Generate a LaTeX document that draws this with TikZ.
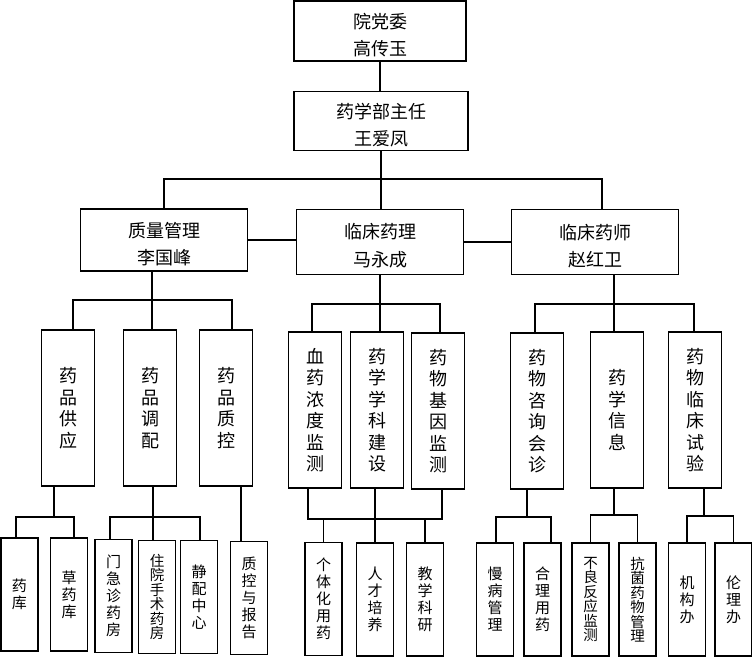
\documentclass[tikz,border=0pt]{standalone}
\usepackage{fontspec}
\setmainfont{Noto Sans CJK SC}

\begin{document}
\begin{tikzpicture}[x=1pt, y=-1pt, line width=1.1pt]
    % Styles
    \tikzstyle{head} = [rectangle, draw, align=center, inner sep=0pt, minimum width=167pt, minimum height=62pt, font=\fontsize{18}{27.5}\selectfont]
    \tikzstyle{dept} = [rectangle, draw, align=center, inner sep=0pt, minimum width=53pt, minimum height=156pt, font=\fontsize{18}{21.5}\selectfont]
    \tikzstyle{unit} = [rectangle, draw, align=center, inner sep=0pt, minimum width=37pt, minimum height=113pt, font=\fontsize{15}{17}\selectfont]
    \tikzstyle{tight} = [font=\fontsize{14.5}{14.5}\selectfont]
    \tikzstyle{line} = [draw]

    \useasboundingbox (0,0) rectangle (752,657);

    % Nodes
    \node [head, minimum width=172pt, minimum height=60pt] (dw) at (380,31) {\rule{0pt}{23pt}院党委\\高传玉};
    \node [head, minimum width=174pt, minimum height=59pt] (bz) at (381,121) {\rule{0pt}{23pt}药学部主任\\王爱凤};
    \node [head] (zl) at (164,240) {\rule{0pt}{23pt}质量管理\\李国峰};
    \node [head, minimum height=65pt] (yl) at (380,242) {\rule{0pt}{23pt}临床药理\\马永成};
    \node [head, minimum height=65pt] (ys) at (595,242) {\rule{0pt}{23pt}临床药师\\赵红卫};

    % second row
    \node [dept] (gy) at (68,408) {药\\品\\供\\应};
    \node [dept] (tp) at (150,408) {药\\品\\调\\配};
    \node [dept] (zk) at (226,408) {药\\品\\质\\控};
    \node [dept] (xn) at (315,410) {血\\药\\浓\\度\\监\\测};
    \node [dept] (xk) at (377,410) {药\\学\\学\\科\\建\\设};
    \node [dept] (jy) at (438,411) {药\\物\\基\\因\\监\\测};
    \node [dept] (zx) at (537,411) {药\\物\\咨\\询\\会\\诊};
    \node [dept] (xx) at (617,410) {药\\学\\信\\息};
    \node [dept] (sy) at (695,410) {药\\物\\临\\床\\试\\验};

    % third row
    \node [unit] (yk) at (19.5,594.5) {药\\库};
    \node [unit] (cyk) at (69,594.5) {草\\药\\库};
    \node [unit] (mjz) at (113.5,596) {门\\急\\诊\\药\\房};
    \node [unit, tight] (zy) at (157,597) {住\\院\\手\\术\\药\\房};
    \node [unit] (jp) at (199,597) {静\\配\\中\\心};
    \node [unit] (zkbg) at (249,598) {质\\控\\与\\报\\告};
    \node [unit] (gt) at (323.5,599) {个\\体\\化\\用\\药};
    \node [unit] (rc) at (375,599.5) {人\\才\\培\\养};
    \node [unit] (jx) at (425,599.5) {教\\学\\科\\研};
    \node [unit] (mb) at (495,599.5) {慢\\病\\管\\理};
    \node [unit] (hl) at (542.5,599.5) {合\\理\\用\\药};
    \node [unit, tight] (bl) at (590.5,599.5) {不\\良\\反\\应\\监\\测};
    \node [unit, tight] (kj) at (637.5,599.5) {抗\\菌\\药\\物\\管\\理};
    \node [unit] (jg) at (687,599.5) {机\\构\\办};
    \node [unit] (ll) at (733.5,599.5) {伦\\理\\办};

    % bus points
    \coordinate (mR) at (602,179);
    \coordinate (zlL) at (73,300);
    \coordinate (zlM) at (152,300);
    \coordinate (zlR) at (232,300);
    \coordinate (ylL) at (312,304);
    \coordinate (ylR) at (440,304);
    \coordinate (ysL) at (535,304);
    \coordinate (ysM) at (614,304);
    \coordinate (ysR) at (694,304);
    \coordinate (gyL) at (16,517);
    \coordinate (gyM) at (54,517);
    \coordinate (gyR) at (74,517);
    \coordinate (tpL) at (110,517);
    \coordinate (tpM) at (153,517);
    \coordinate (tpR) at (200,517);
    \coordinate (zkM) at (241,517);
    \coordinate (gtL) at (308,519);
    \coordinate (gtM) at (375,519);
    \coordinate (gtR) at (442,519);
    \coordinate (mbL) at (496,517);
    \coordinate (mbM) at (527,517);
    \coordinate (mbR) at (551,517);
    \coordinate (blM) at (614,515);
    \coordinate (jgM) at (704,516);

    % Paths
    \path [line] (dw.south) -- (dw.south |- bz.north);
    \path [line] (bz.south) -- (bz.south |- yl.north);
    \path [line] (zl.north) |- (mR) -- (mR |- ys.north);
    \path [line] (zl.east) -- (zl.east -| yl.west);
    \path [line] (yl.east) -- (yl.east -| ys.west);

    % first level to second level
    \path [line] (zl.south -| zlM) -- (tp.north -| zlM);
    \path [line] (gy.north -| zlL) |- (zlR) -- (zk.north -| zlR);
    \path [line] (yl.south) -- (yl.south |- xk.north);
    \path [line] (xn.north -| ylL) |- (ylR) -- (jy.north -| ylR);
    \path [line] (ys.south -| ysM) -- (xx.north -| ysM);
    \path [line] (zx.north -| ysL) |- (ysR) -- (sy.north -| ysR);

    % second level to third level
    \path [line] (gy.south -| gyM) -- (gyM);
    \path [line] (yk.north -| gyL) |- (gyR) -- (cyk.north -| gyR);
    \path [line] (tp.south -| tpM) -- (zy.north -| tpM);
    \path [line] (mjz.north -| tpL) |- (tpR) -- (jp.north -| tpR);
    \path [line] (zk.south -| zkM) -- (zkbg.north -| zkM);
    \path [line] (xn.south -| gtL) |- (gtR) -- (jy.south -| gtR);
    \path [line] (xk.south -| gtM) -- (rc.north -| gtM);
    \path [line] (gt.north) -- (gt.north |- gtM);
    \path [line] (jx.north) -- (jx.north |- gtM);
    \path [line] (zx.south -| mbM) -- (mbM);
    \path [line] (mb.north -| mbL) |- (mbR) -- (hl.north -| mbR);
    \path [line] (xx.south -| blM) -- (blM);
    \path [line] (bl.north) |- (blM) -| (kj.north);
    \path [line] (sy.south -| jgM) -- (jgM);
    \path [line] (jg.north) |- (jgM) -| (ll.north);

\end{tikzpicture}
\end{document}
